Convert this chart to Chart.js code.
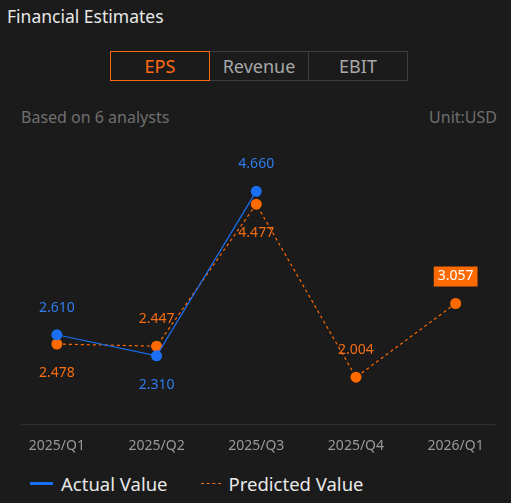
<!DOCTYPE html>
<html>
<head>
<meta charset="utf-8">
<script src="https://cdn.jsdelivr.net/npm/chart.js@4.4.1/dist/chart.umd.min.js"></script>
<style>
  html, body { margin: 0; padding: 0; background: #1b1b1b; }
  body { width: 511px; height: 503px; position: relative; overflow: hidden; font-family: "Noto Sans", "Open Sans", sans-serif; }
  .title { position: absolute; left: 7px; top: 4px; color: #e8e8e8; font-size: 17.5px; }
  .tabs { position: absolute; left: 111px; top: 51px; display: flex; }
  .tab { width: 98px; height: 28px; line-height: 28px; text-align: center; color: #a8a8a8; font-size: 18px; border: 1px solid #3c3c3c; margin-left: -1px; }
  .tab.active { color: #ff6a13; border-color: #ff6a13; position: relative; z-index: 1; }
  .sub { position: absolute; top: 106px; color: #6f6f6f; font-size: 16px; }
  .legend { position: absolute; top: 471px; left: 30px; display: flex; align-items: center; color: #e8e8e8; font-size: 18.5px; }
  .legend .sw { width: 23px; height: 0; margin-right: 8px; }
  .chart-box { position: absolute; left: 0; top: 130px; width: 511px; height: 337px; }
</style>
</head>
<body>
<div class="title">Financial Estimates</div>
<div class="tabs">
  <div class="tab active">EPS</div>
  <div class="tab">Revenue</div>
  <div class="tab">EBIT</div>
</div>
<div class="sub" style="left:21px">Based on 6 analysts</div>
<div class="sub" style="right:14px">Unit:USD</div>
<div class="chart-box"><canvas id="eps-chart"></canvas></div>
<div class="legend">
  <span class="sw" style="border-top:3px solid #1a6ff2"></span><span>Actual Value</span>
  <span class="sw" style="border-top:1px dashed #e8711a; margin-left:33px; width:20px"></span><span>Predicted Value</span>
</div>
<script>
// EPS data
const quarters = ['2025/Q1', '2025/Q2', '2025/Q3', '2025/Q4', '2026/Q1'];
const actualValues = [2.610, 2.310, 4.660, null, null];
const predictedValues = [2.478, 2.447, 4.477, 2.004, 3.057];

const BLUE = '#1a6ff2';
const ORANGE = '#ff6a00';

// where each value label sits relative to its point
const actualLabelPos = ['top', 'bottom', 'top', null, null];
const predictedLabelPos = ['bottom', 'top', 'bottom', 'top', 'box'];

const valueLabels = {
    id: 'valueLabels',
    afterDatasetsDraw(chart) {
        const ctx = chart.ctx;
        const sets = [
            { meta: chart.getDatasetMeta(1), values: predictedValues, pos: predictedLabelPos, color: '#f76d12' },
            { meta: chart.getDatasetMeta(0), values: actualValues, pos: actualLabelPos, color: '#2f7df0' }
        ];
        ctx.save();
        ctx.font = '14px "Noto Sans", sans-serif';
        ctx.textAlign = 'center';
        ctx.textBaseline = 'middle';
        sets.forEach(s => {
            s.meta.data.forEach((pt, i) => {
                const v = s.values[i];
                if (v === null || !s.pos[i]) return;
                const text = v.toFixed(3);
                let y = pt.y;
                if (s.pos[i] === 'top') y -= 27;
                else if (s.pos[i] === 'bottom') y += 29;
                else {
                    y -= 27;
                    const w = ctx.measureText(text).width + 8;
                    ctx.fillStyle = ORANGE;
                    ctx.fillRect(pt.x - w / 2, y - 10, w, 20);
                    ctx.fillStyle = '#ffffff';
                    ctx.fillText(text, pt.x, y);
                    return;
                }
                ctx.fillStyle = s.color;
                ctx.fillText(text, pt.x, y);
            });
        });
        ctx.restore();
    }
};

const baseLine = {
    id: 'baseLine',
    beforeDatasetsDraw(chart) {
        const a = chart.chartArea;
        const ctx = chart.ctx;
        ctx.save();
        ctx.strokeStyle = '#333333';
        ctx.lineWidth = 1;
        ctx.beginPath();
        ctx.moveTo(a.left + 14, a.bottom + 0.5);
        ctx.lineTo(a.right - 10, a.bottom + 0.5);
        ctx.stroke();
        ctx.restore();
    }
};

document.addEventListener('DOMContentLoaded', function() {
    const ctx = document.getElementById('eps-chart');
    new Chart(ctx, {
        type: 'line',
        data: {
            labels: quarters,
            datasets: [
                {
                    label: 'Actual Value',
                    data: actualValues,
                    borderColor: BLUE,
                    backgroundColor: BLUE,
                    borderWidth: 1.2,
                    pointRadius: 5.5,
                    pointBorderWidth: 0,
                    tension: 0,
                    spanGaps: false
                },
                {
                    label: 'Predicted Value',
                    data: predictedValues,
                    borderColor: ORANGE,
                    backgroundColor: ORANGE,
                    borderWidth: 1.2,
                    borderDash: [3, 3],
                    pointRadius: 5.5,
                    pointBorderWidth: 0,
                    tension: 0
                }
            ]
        },
        options: {
            responsive: true,
            maintainAspectRatio: false,
            animation: false,
            layout: { padding: { top: 10, left: 7, right: 3, bottom: 0 } },
            plugins: {
                legend: { display: false },
                tooltip: { enabled: false }
            },
            scales: {
                x: {
                    offset: true,
                    grid: { display: false, drawTicks: false },
                    border: { display: false },
                    ticks: {
                        color: '#9a9a9a',
                        padding: 13,
                        font: { size: 14, family: '"Noto Sans", sans-serif' }
                    }
                },
                y: {
                    display: false,
                    min: 1.332,
                    max: 5.394
                }
            }
        },
        plugins: [baseLine, valueLabels]
    });
});
</script>
</body>
</html>
